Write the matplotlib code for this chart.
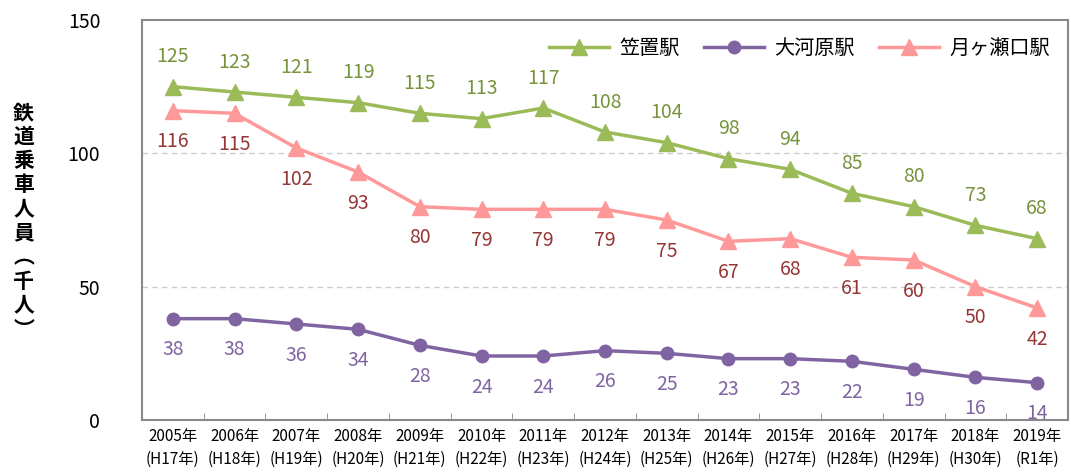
import matplotlib
matplotlib.use("Agg")
import matplotlib.pyplot as plt

plt.rcParams['font.family'] = ['Noto Sans CJK JP', 'DejaVu Sans']

years = ['2005年\n(H17年)', '2006年\n(H18年)', '2007年\n(H19年)', '2008年\n(H20年)',
         '2009年\n(H21年)', '2010年\n(H22年)', '2011年\n(H23年)', '2012年\n(H24年)',
         '2013年\n(H25年)', '2014年\n(H26年)', '2015年\n(H27年)', '2016年\n(H28年)',
         '2017年\n(H29年)', '2018年\n(H30年)', '2019年\n(R1年)']
kasaoki = [125, 123, 121, 119, 115, 113, 117, 108, 104, 98, 94, 85, 80, 73, 68]
ogawara = [38, 38, 36, 34, 28, 24, 24, 26, 25, 23, 23, 22, 19, 16, 14]
tsukigase = [116, 115, 102, 93, 80, 79, 79, 79, 75, 67, 68, 61, 60, 50, 42]

GREEN, GREEN_TXT = '#9BBB59', '#77933C'
PURPLE, PURPLE_TXT = '#8064A2', '#8064A2'
PINK, PINK_TXT = '#FF9999', '#953735'

fig = plt.figure(figsize=(10.71, 4.75), dpi=100)
ax = fig.add_axes([0.1326, 0.1158, 0.8646, 0.8421])

x = list(range(len(years)))
ax.plot(x, kasaoki, color=GREEN, lw=2.5, marker='^', ms=11, label='笠置駅', zorder=3)
ax.plot(x, ogawara, color=PURPLE, lw=2.5, marker='o', ms=9, label='大河原駅', zorder=3)
ax.plot(x, tsukigase, color=PINK, lw=2.5, marker='^', ms=11, label='月ヶ瀬口駅', zorder=3)

lab_kw = dict(textcoords='offset points', ha='center', fontsize=14)
for xi, v in zip(x, kasaoki):
    ax.annotate(str(v), (xi, v), xytext=(0, 14), va='bottom', color=GREEN_TXT, **lab_kw)
for xi, v in zip(x, tsukigase):
    ax.annotate(str(v), (xi, v), xytext=(0, -15), va='top', color=PINK_TXT, **lab_kw)
for xi, v in zip(x, ogawara):
    ax.annotate(str(v), (xi, v), xytext=(0, -15), va='top', color=PURPLE_TXT, **lab_kw)

ax.set_xlim(-0.5, len(years) - 0.5)
ax.set_ylim(0, 150)
ax.set_yticks([0, 50, 100, 150])
ax.tick_params(axis='y', length=0, labelsize=14, pad=30)
ax.set_xticks(x)
ax.set_xticklabels(years, fontsize=11, linespacing=1.45)
ax.tick_params(axis='x', length=0, pad=6)
ax.set_xticks([i + 0.5 for i in x[:-1]], minor=True)
ax.tick_params(axis='x', which='minor', direction='in', length=5, color='#898989')

for yv in (50, 100):
    ax.axhline(yv, color='#cccccc', lw=1, ls=(0, (4, 3)), zorder=1)
for sp in ax.spines.values():
    sp.set_color('#898989')
    sp.set_linewidth(1.5)

fig.text(0.022, 0.535, '\n'.join('鉄道乗車人員︵千人︶'), ha='center', va='center',
         fontsize=15, fontweight='bold', linespacing=1.18)

ax.legend(loc='upper right', bbox_to_anchor=(1.0, 1.0), frameon=False, ncol=3,
          fontsize=14.5, handlelength=3, columnspacing=1.2, handletextpad=0.5)

fig.savefig('out.png', dpi=100, facecolor='white')
